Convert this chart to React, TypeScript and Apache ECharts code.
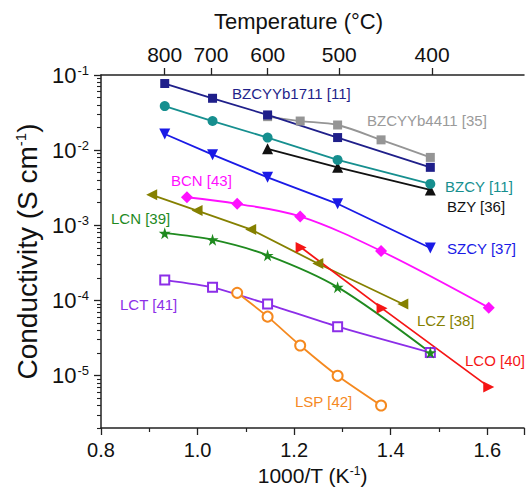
import React, { useEffect, useRef } from 'react';
import * as echarts from 'echarts';

const FONT = '"Liberation Sans", Arial, Helvetica, sans-serif';

// Axis ticks
const tempTicksC = [800, 700, 600, 500, 400];
const yDecades = [1e-5, 1e-4, 1e-3, 1e-2, 1e-1];
const yMinorMultipliers = [2, 3, 4, 5, 6, 7, 8, 9];
const yMinorDecades = [1e-6, 1e-5, 1e-4, 1e-3, 1e-2];

// Series data: x = 1000/T (K^-1), y = conductivity (S/cm)
const bzcyyb1711X = [0.932, 1.031, 1.145, 1.29, 1.482];
const bzcyyb1711Y = [0.077, 0.049, 0.0294, 0.0147, 0.0059];

const bzcyyb4411X = [1.145, 1.2125, 1.29, 1.38, 1.482];
const bzcyyb4411Y = [0.0279, 0.0244, 0.0216, 0.0137, 0.008];

const bzcyX = [0.932, 1.031, 1.145, 1.29, 1.482];
const bzcyY = [0.0386, 0.0244, 0.0147, 0.0074, 0.00355];

const bzyX = [1.145, 1.29, 1.482];
const bzyY = [0.0104, 0.0059, 0.00295];

const szcyX = [0.932, 1.031, 1.145, 1.29, 1.482];
const szcyY = [0.0164, 0.0087, 0.00434, 0.00193, 0.000498];

const bcnX = [0.978, 1.082, 1.2125, 1.38, 1.603];
const bcnY = [0.00236, 0.00193, 0.00131, 0.000454, 0.00008];

const lczX = [0.905, 0.999, 1.11, 1.249, 1.425];
const lczY = [0.00254, 0.00157, 0.00088, 0.00031, 0.0000893];

const lcnX = [0.932, 1.031, 1.145, 1.29, 1.482];
const lcnY = [0.000785, 0.000642, 0.000398, 0.00015, 0.0000202];

const lcoX = [1.2145, 1.382, 1.603];
const lcoY = [0.000505, 0.0000783, 0.00000705];

const lctX = [0.932, 1.031, 1.145, 1.29, 1.482];
const lctY = [0.000186, 0.000149, 0.0000893, 0.0000447, 0.0000202];

const lspX = [1.082, 1.145, 1.2125, 1.29, 1.38];
const lspY = [0.000126, 0.0000607, 0.0000251, 0.0000099, 0.00000398];

const STAR = 'path://M50,0 L61,35 L98,35 L68,57 L79,91 L50,70 L21,91 L32,57 L2,35 L39,35 Z';

const C = {
  navy: '#1f1f8a',
  gray: '#959595',
  teal: '#168f8f',
  black: '#111111',
  blue: '#1a1ae6',
  magenta: '#ff10ff',
  olive: '#858000',
  green: '#1f8a1f',
  red: '#f51515',
  purple: '#8c2ee8',
  orange: '#f5891f',
};

function mk(
  name: string,
  xs: number[],
  ys: number[],
  color: string,
  symbol: string,
  size: number,
  rotate = 0,
  smooth: number | boolean = false
) {
  return {
    type: 'line',
    name,
    data: xs.map((x, i) => [x, ys[i]]),
    symbol,
    symbolSize: size,
    symbolRotate: rotate,
    smooth,
    showAllSymbol: true,
    lineStyle: { color, width: 1.8 },
    itemStyle: { color, borderColor: color, borderWidth: symbol.startsWith('empty') ? 1.3 : 0 },
    emphasis: { disabled: true },
    silent: true,
  };
}

const labels = [
  { text: 'BZCYYb1711 [11]', x: 232, y: 93, color: C.navy },
  { text: 'BZCYYb4411 [35]', x: 367, y: 120, color: '#9a9a9a' },
  { text: 'BZCY [11]', x: 445, y: 186, color: C.teal },
  { text: 'BZY [36]', x: 447, y: 206, color: C.black },
  { text: 'SZCY [37]', x: 447, y: 248, color: C.blue },
  { text: 'BCN [43]', x: 171, y: 180, color: C.magenta },
  { text: 'LCN [39]', x: 111, y: 218, color: C.green },
  { text: 'LCT [41]', x: 120, y: 304, color: C.purple },
  { text: 'LCZ [38]', x: 417, y: 320, color: C.olive },
  { text: 'LCO [40]', x: 465, y: 360, color: C.red },
  { text: 'LSP [42]', x: 295, y: 401, color: C.orange },
];

export default function App() {
  const ref = useRef<HTMLDivElement>(null);
  useEffect(() => {
    if (!ref.current) return;
    const chart = echarts.init(ref.current, undefined, { renderer: 'svg' });
    const tempXs = tempTicksC.map((t) => 1000 / (t + 273.15));
    const yMinor: number[] = [];
    yMinorDecades.forEach((d) => yMinorMultipliers.forEach((m) => yMinor.push(m * d)));
    const supRich = {
      b: { fontSize: 22, fontFamily: FONT, color: '#111' },
      s: { fontSize: 13, fontFamily: FONT, color: '#111', verticalAlign: 'top', padding: [0, 0, 0, 1] },
    };
    const option: any = {
      animation: false,
      backgroundColor: '#fff',
      grid: { left: 101, top: 75, right: 0, bottom: 65, containLabel: false },
      xAxis: [
        {
          type: 'value',
          position: 'bottom',
          min: 0.8,
          max: 1.676,
          interval: 0.2,
          axisLine: { show: true, onZero: false, lineStyle: { color: '#222', width: 1.5 } },
          axisTick: { show: true, length: 7, lineStyle: { color: '#222', width: 1.3 } },
          minorTick: { show: true, splitNumber: 2, length: 4, lineStyle: { color: '#222', width: 1.2 } },
          splitLine: { show: false },
          minorSplitLine: { show: false },
          axisLabel: {
            margin: 12,
            fontSize: 20,
            fontFamily: FONT,
            color: '#111',
            formatter: (v: number) => (Math.abs(v * 5 - Math.round(v * 5)) < 1e-6 ? v.toFixed(1) : ''),
          },
          name: '{a|1000/T (K}{s|-1}{a|)}',
          nameLocation: 'middle',
          nameGap: 37,
          nameTextStyle: {
            rich: {
              a: { fontSize: 21, fontFamily: FONT, color: '#111' },
              s: { fontSize: 12, fontFamily: FONT, color: '#111', verticalAlign: 'top' },
            },
          },
        },
        {
          type: 'value',
          position: 'top',
          min: 0.8,
          max: 1.676,
          axisLine: { show: true, onZero: false, lineStyle: { color: '#222', width: 1.5 } },
          axisTick: { show: true, length: 7, customValues: tempXs, lineStyle: { color: '#222', width: 1.3 } },
          splitLine: { show: false },
          axisLabel: {
            customValues: tempXs,
            margin: 10,
            fontSize: 21,
            fontFamily: FONT,
            color: '#111',
            formatter: (v: number) => String(Math.round(1000 / v - 273.15)),
          },
          name: 'Temperature (°C)',
          nameLocation: 'middle',
          nameGap: 43,
          nameTextStyle: { fontSize: 22, fontFamily: FONT, color: '#111', padding: [0, 28, 0, 0] },
        },
      ],
      yAxis: [
        {
          type: 'log',
          position: 'left',
          min: 2e-6,
          max: 0.10001,
          axisLine: { show: true, onZero: false, lineStyle: { color: '#222', width: 1.5 } },
          axisTick: { show: true, length: 7, customValues: yDecades, lineStyle: { color: '#222', width: 1.3 } },
          splitLine: { show: false },
          axisLabel: {
            customValues: yDecades,
            margin: 12,
            formatter: (v: number) => `{b|10}{s|${Math.round(Math.log10(v))}}`,
            rich: supRich,
          },
          name: '{a|Conductivity (S cm}{s|-1}{a|)}',
          nameLocation: 'middle',
          nameRotate: 90,
          nameGap: 58,
          nameTextStyle: {
            rich: {
              a: { fontSize: 28, fontFamily: FONT, color: '#111' },
              s: { fontSize: 15, fontFamily: FONT, color: '#111', verticalAlign: 'top' },
            },
          },
        },
        {
          type: 'log',
          position: 'left',
          min: 2e-6,
          max: 0.10001,
          axisLine: { show: false },
          axisTick: { show: true, length: 4, customValues: yMinor, lineStyle: { color: '#222', width: 1.1 } },
          axisLabel: { show: false },
          splitLine: { show: false },
        },
      ],
      graphic: labels.map((l) => ({
        type: 'text',
        x: l.x,
        y: l.y,
        silent: true,
        style: {
          text: l.text,
          fill: l.color,
          font: `15px ${FONT}`,
          verticalAlign: 'middle',
          align: 'left',
        },
      })),
      series: [
        mk('BZCYYb4411 [35]', bzcyyb4411X, bzcyyb4411Y, C.gray, 'rect', 9, 0, 0.3),
        mk('BZCYYb1711 [11]', bzcyyb1711X, bzcyyb1711Y, C.navy, 'rect', 9),
        mk('BZY [36]', bzyX, bzyY, C.black, 'triangle', 11),
        mk('BZCY [11]', bzcyX, bzcyY, C.teal, 'circle', 10),
        mk('SZCY [37]', szcyX, szcyY, C.blue, 'triangle', 11, 180),
        mk('BCN [43]', bcnX, bcnY, C.magenta, 'diamond', 12, 0, 0.35),
        mk('LCT [41]', lctX, lctY, C.purple, 'emptyRect', 9, 0, 0.2),
        mk('LSP [42]', lspX, lspY, C.orange, 'emptyCircle', 10, 0, 0.2),
        mk('LCN [39]', lcnX, lcnY, C.green, STAR, 12, 0, 0.3),
        mk('LCZ [38]', lczX, lczY, C.olive, 'triangle', 11, 90),
        mk('LCO [40]', lcoX, lcoY, C.red, 'triangle', 11, -90),
      ].map((s) => ({ ...s, xAxisIndex: 0, yAxisIndex: 0 })),
    };
    chart.setOption(option);
    return () => chart.dispose();
  }, []);
  return (
    <div
      ref={ref}
      style={{ position: 'fixed', left: 0, top: 0, width: 527, height: 493, background: '#fff' }}
    />
  );
}
